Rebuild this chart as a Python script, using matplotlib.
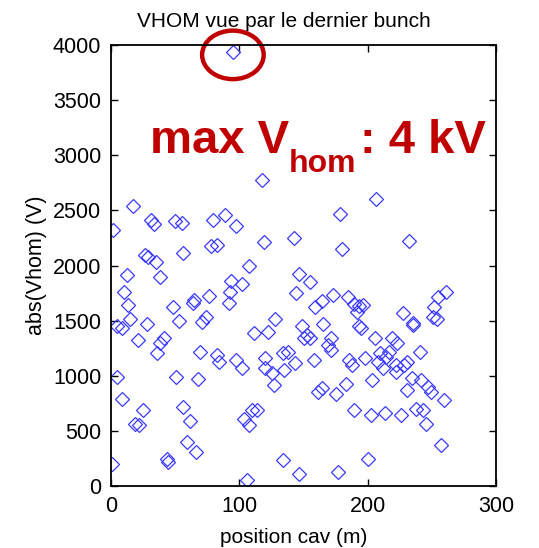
import numpy as np
import matplotlib
matplotlib.use('Agg')
import matplotlib.pyplot as plt
from matplotlib.patches import Ellipse

plt.rcParams['font.family'] = ['Liberation Sans', 'DejaVu Sans']

# position of cavity (m) and abs(Vhom) (V)
position = [95, 117.4, 16.9, 1.5, 31.5, 33.3, 49.5, 55.4, 79.5, 89.2, 97.4, 119.2, 142.6,
            56.4, 77.7, 82.8, 26.4, 29.0, 35.4, 37.9, 12.3, 10.3, 13.6, 14.9, 107.2,
            93.6, 102.1, 93.1, 91.8, 76.4, 64.9, 63.6, 48.2, 53.3, 73.8, 71.3, 27.7,
            4.6, 127.7, 146.9, 144.4,
            206.3, 178.5, 180.0, 232.4, 155.2, 159.0, 164.6, 172.9, 185.1, 189.4,
            193.2, 196.2, 191.9, 227.3, 235.7, 261.0, 255.2, 251.4, 250.6, 253.9,
            148.9, 165.3, 193.2,
            8.3, 20.9, 41.0, 38.4, 35.9, 69.3, 82.4, 84.4, 97.5, 102.0, 111.8, 122.6,
            120.1, 120.1, 125.1, 127.1, 133.9, 137.7, 135.2, 143.5, 5.0, 50.3, 67.8,
            8.3, 24.6, 18.3, 22.1, 56.0, 61.8, 59.3, 66.1, 43.5, 44.7, 0.8, 103.8,
            110.1, 113.8, 107.5, 106.3, 133.9, 146.5,
            152.9, 150.4, 155.4, 171.7, 169.2, 171.2, 194.7, 205.5, 219.3, 223.1,
            235.6, 240.6, 157.9, 185.5, 188.0, 198.0, 209.3, 214.3, 216.8, 208.0,
            211.8, 221.8, 221.8, 228.1, 230.6, 234.3, 241.9, 246.9, 249.4, 259.4,
            230.6, 203.8, 183.0, 164.2, 161.7, 175.4, 189.7, 202.3, 213.8, 226.3,
            238.1, 243.1, 245.6, 256.9, 200.5, 176.7]
vhom = [3940, 2773, 2539, 2318, 2409, 2379, 2400, 2388, 2409, 2461, 2358, 2212, 2252,
        2112, 2173, 2182, 2091, 2076, 2030, 1900, 1918, 1764, 1646, 1515, 1991,
        1864, 1833, 1758, 1658, 1727, 1688, 1658, 1627, 1500, 1530, 1485, 1470,
        1455, 1515, 1924, 1749,
        2600, 2470, 2152, 2218, 1849, 1621, 1682, 1736, 1712, 1652,
        1636, 1645, 1576, 1567, 1476, 1764, 1712, 1621, 1530, 1515,
        1455, 1470, 1455,
        1430, 1324, 1339, 1294, 1203, 1212, 1188, 1127, 1142, 1067, 1385, 1400,
        1157, 1067, 1021, 915, 1203, 1218, 1051, 1112, 985, 985, 967,
        794, 694, 567, 551, 718, 591, 400, 309, 248, 218, 203, 612,
        688, 688, 551, 58, 233, 112,
        1370, 1339, 1339, 1339, 1279, 1233, 1430, 1339, 1339, 1294,
        1460, 1218, 1142, 1142, 1097, 1157, 1203, 1173, 1218, 1127,
        1067, 1097, 1036, 1097, 1127, 976, 961, 900, 854, 779,
        870, 961, 930, 885, 854, 839, 688, 642, 664, 642,
        703, 694, 567, 376, 248, 127]

x_ticks = [0, 100, 200, 300]
y_ticks = [0, 500, 1000, 1500, 2000, 2500, 3000, 3500, 4000]

fig = plt.figure(figsize=(5.39, 5.48), dpi=100)
ax = fig.add_axes([0.206, 0.113, 0.714, 0.805])

ax.plot(position, vhom, linestyle='none', marker='D', markersize=7.5,
        markerfacecolor='none', markeredgecolor='#3a3aff', markeredgewidth=0.9)

ax.set_xlim(0, 300)
ax.set_ylim(0, 4000)
ax.set_xticks(x_ticks)
ax.set_yticks(y_ticks)
ax.tick_params(direction='in', length=5, width=1, top=True, right=True,
               labelsize=15.5, pad=7)
for s in ax.spines.values():
    s.set_linewidth(1.3)

ax.set_title('VHOM vue par le dernier bunch', fontsize=15, pad=13, x=0.448)
ax.set_xlabel('position cav (m)', fontsize=15, labelpad=8, x=0.475)
ax.set_ylabel('abs(Vhom) (V)', fontsize=15.5, labelpad=4)

# red annotation: ellipse round the max point and the "max V_hom" text
ax.add_patch(Ellipse((95, 3910), 48, 440, fill=False, edgecolor='#c00000',
                     linewidth=3.2, clip_on=False))

red = '#c00000'
renderer = fig.canvas.get_renderer()
base_y = 1 - 153 / 548
t1 = fig.text(150 / 539, base_y, 'max V', color=red, fontsize=34,
              fontweight='bold', va='baseline', ha='left')
x1 = t1.get_window_extent(renderer).x1 / 539
t2 = fig.text(x1, base_y - 19 / 548, 'hom', color=red, fontsize=23,
              fontweight='bold', va='baseline', ha='left')
x2 = t2.get_window_extent(renderer).x1 / 539
fig.text(x2 + 3 / 539, base_y, ': 4 kV', color=red, fontsize=34,
         fontweight='bold', va='baseline', ha='left')

fig.savefig('out.png', dpi=100)
